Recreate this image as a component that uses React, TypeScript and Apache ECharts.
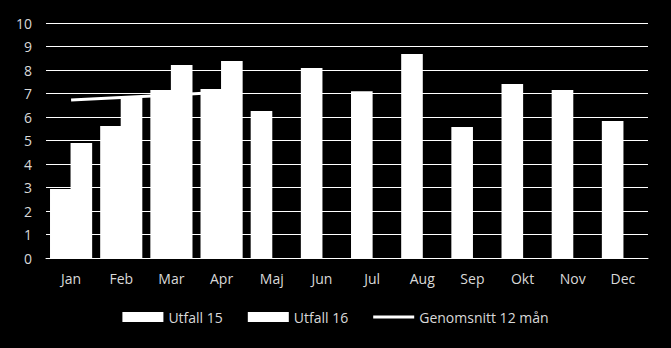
import React, { useEffect, useRef } from "react";
import * as echarts from "echarts";

const months = ["Jan", "Feb", "Mar", "Apr", "Maj", "Jun", "Jul", "Aug", "Sep", "Okt", "Nov", "Dec"];
const utfall15 = [2.94, 5.62, 7.15, 7.19, 6.26, 8.09, 7.1, 8.68, 5.57, 7.4, 7.15, 5.83];
const utfall16 = [4.89, 6.89, 8.21, 8.38, null, null, null, null, null, null, null, null];
const genomsnitt = [6.72, 6.83, 6.94, 7.05, null, null, null, null, null, null, null, null];
const yTicks = { min: 0, max: 10, interval: 1 };

const FONT = "'Open Sans', sans-serif";
const TXT = "#d9d9d9";
const LINE_ICON = "path://M0,0 L0,0 M0,3.5 L41,3.5 L41,6.5 L0,6.5 Z M41,10 L41,10";

export default function App() {
  const ref = useRef<HTMLDivElement>(null);
  useEffect(() => {
    const chart = echarts.init(ref.current!, null, { renderer: "svg" });
    chart.setOption({
      animation: false,
      backgroundColor: "#000000",
      textStyle: { fontFamily: FONT },
      grid: { left: 46, right: 23, top: 23, bottom: 90 },
      legend: {
        bottom: 19,
        left: "center",
        itemWidth: 41,
        itemHeight: 10,
        itemGap: 25,
        textStyle: { color: TXT, fontSize: 14, fontFamily: FONT },
        data: [
          { name: "Utfall 15", icon: "rect" },
          { name: "Utfall 16", icon: "rect" },
          { name: "Genomsnitt 12 mån", icon: LINE_ICON, itemStyle: { color: "#ffffff", borderWidth: 0 } },
        ],
      },
      xAxis: {
        type: "category",
        data: months,
        axisLine: { show: true, lineStyle: { color: "#ffffff", width: 1 } },
        axisTick: { show: false },
        axisLabel: { color: TXT, fontSize: 14, margin: 13, fontFamily: FONT },
      },
      yAxis: {
        type: "value",
        min: yTicks.min,
        max: yTicks.max,
        interval: yTicks.interval,
        axisLine: { show: false },
        axisTick: { show: false },
        axisLabel: { color: TXT, fontSize: 14, margin: 14, fontFamily: FONT },
        splitLine: { lineStyle: { color: "#ffffff", width: 1 } },
      },
      series: [
        {
          name: "Genomsnitt 12 mån",
          type: "line",
          data: genomsnitt,
          symbol: "none",
          lineStyle: { color: "#ffffff", width: 3 },
          itemStyle: { color: "#ffffff" },
          z: 1,
        },
        {
          name: "Utfall 15",
          type: "bar",
          data: utfall15,
          barGap: "-5%",
          barCategoryGap: "16%",
          itemStyle: { color: "#ffffff" },
          z: 3,
        },
        {
          name: "Utfall 16",
          type: "bar",
          data: utfall16,
          barGap: "-5%",
          barCategoryGap: "16%",
          itemStyle: { color: "#ffffff" },
          z: 3,
        },
      ],
    });
    return () => chart.dispose();
  }, []);
  return <div ref={ref} style={{ width: 671, height: 348, position: "absolute", left: 0, top: 0 }} />;
}
